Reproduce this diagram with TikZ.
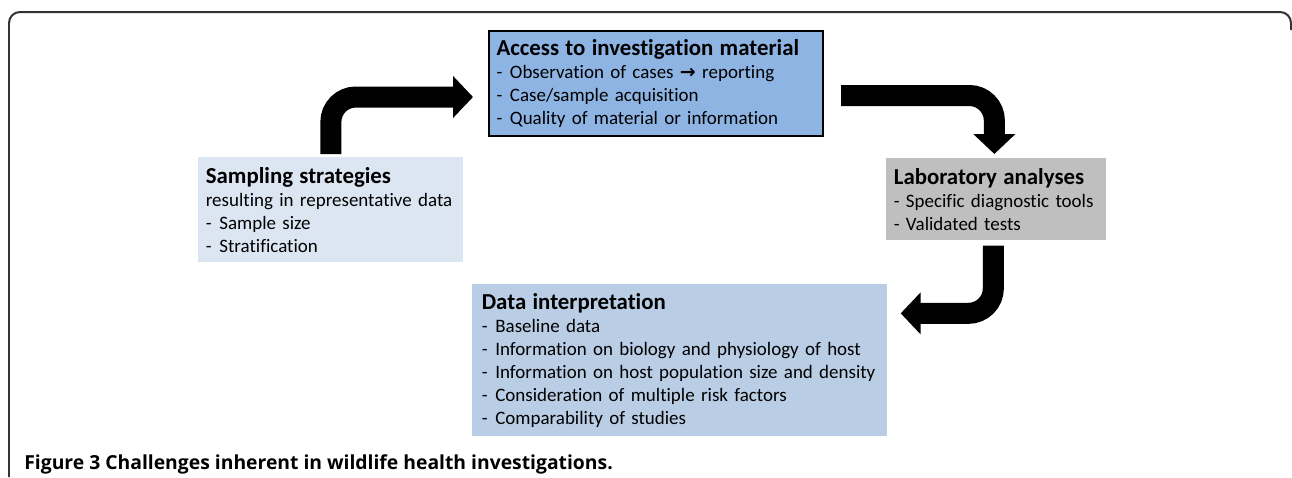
\documentclass[tikz,border=0pt]{standalone}
\usepackage{fontspec}
\setmainfont[Ligatures={NoCommon}]{Carlito}
\newfontfamily\symfont{DejaVu Sans}
\newfontfamily\capfont{Open Sans}
\usetikzlibrary{positioning, calc, arrows.meta}
\definecolor{accblue}{HTML}{8EB4E3}
\definecolor{sampblue}{HTML}{DCE6F2}
\definecolor{labgray}{HTML}{BFBFBF}
\definecolor{datablue}{HTML}{B9CDE5}
\definecolor{framegray}{HTML}{333333}
\tikzset{box/.style={anchor=north west, align=left, inner xsep=0.15cm, inner ysep=0pt, font=\fontsize{10.8}{13.1}\selectfont}}
\tikzset{bigarrow/.style={line width=0.42cm, rounded corners=0.5cm, -{Triangle[length=0.4cm, width=0.82cm]}}}
\newcommand{\boxtitle}[1]{{\fontsize{13}{15}\selectfont\bfseries #1}}
\newcommand{\itm}[1]{\makebox[0.27cm][l]{-}#1}

\begin{document}
\begin{tikzpicture}[x=0.02cm, y=-0.02cm]
      \useasboundingbox (0,0) rectangle (1292,477);
      \draw[framegray, line width=0.04cm, rounded corners=0.22cm] (9,477) -- (9,12) -- (1291,12) -- (1291,30);

      \node[box, fill=accblue, draw=black, line width=0.04cm, minimum width=334*0.02cm, minimum height=105*0.02cm,
        text width=334*0.02cm-0.3cm] (acc) at (488,30) {%
        \boxtitle{Access to investigation material}\\
        \itm{Observation of cases {\symfont\bfseries →} reporting}\\
        \itm{Case/sample acquisition}\\
        \itm{Quality of material or information}};

      \node[box, fill=sampblue, minimum width=265*0.02cm, minimum height=105*0.02cm,
        text width=265*0.02cm-0.3cm] (samp) at (198,157) {%
        \boxtitle{Sampling strategies}\\
        resulting in representative data\\
        \itm{Sample size}\\
        \itm{Stratification}};

      \node[box, fill=labgray, minimum width=220*0.02cm, minimum height=82*0.02cm,
        text width=220*0.02cm-0.3cm] (lab) at (886,158) {%
        \boxtitle{Laboratory analyses}\\
        - Specific diagnostic tools\\
        - Validated tests};

      \node[box, fill=datablue, minimum width=411*0.02cm, minimum height=152*0.02cm,
        text width=411*0.02cm-0.3cm, inner xsep=0.19cm] (data) at (472,284) {%
        \boxtitle{Data interpretation}\\
        \itm{Baseline data}\\
        \itm{Information on biology and physiology of host}\\
        \itm{Information on host population size and density}\\
        \itm{Consideration of multiple risk factors}\\
        \itm{Comparability of studies}};

      \draw[bigarrow] ($(samp.north)+(0,-3)$) |- ($(acc.west)+(-15,13.5)$);
      \draw[bigarrow] ($(acc.east)+(17,12)$) -| ($(lab.north)+(-2,-4)$);
      \draw[bigarrow] ($(lab.south)+(-3,5)$) |- ($(data.east)+(13,-47)$);

      \node[anchor=base west, inner sep=0pt, font=\capfont\fontsize{11}{13}\selectfont] (caption) at (24,469)
        {\textbf{Figure 3} \textbf{Challenges inherent in wildlife health investigations.}};
\end{tikzpicture}
\end{document}
